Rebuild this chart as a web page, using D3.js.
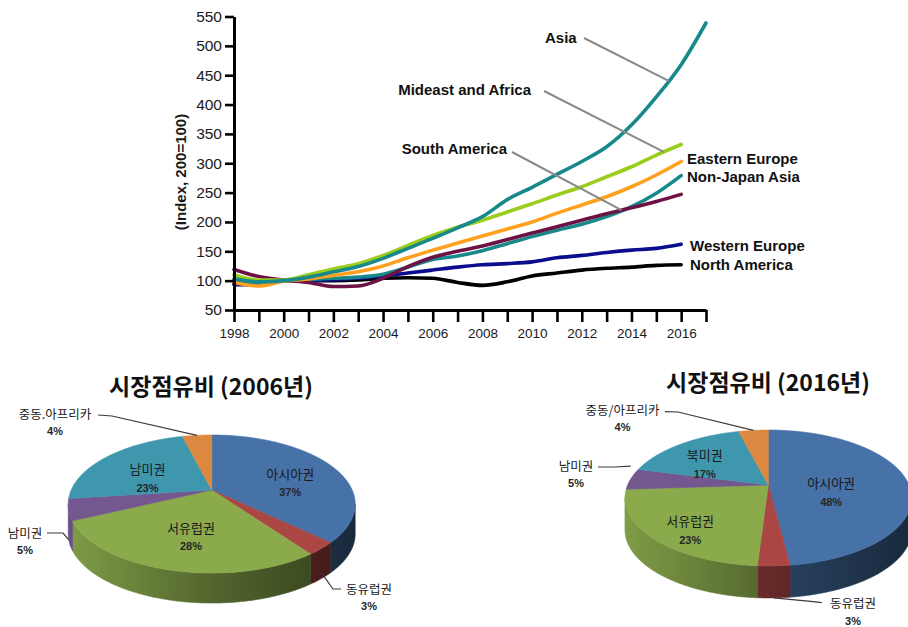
<!DOCTYPE html>
<html>
<head>
<meta charset="utf-8">
<script src="https://cdn.jsdelivr.net/npm/d3@7"></script>
<style>
  body { margin: 0; background: #fff; }
  svg { display: block; }
</style>
</head>
<body>
<svg id="chart" width="908" height="627"></svg>
<script>
// ---------- Market index by region (index, 2000 = 100) ----------
const years = d3.range(1998, 2017);          // 1998 … 2016
const asiaYears = d3.range(1998, 2018);      // 1998 … 2017
const asia          = [103, 98, 100, 106, 115, 124, 138, 155, 172, 190, 209, 238, 259, 281, 303, 328, 365, 413, 468, 539];
const mideastAfrica = [110, 101, 101, 110, 120, 129, 143, 160, 177, 191, 203, 217, 231, 246, 260, 277, 294, 314, 332];
const easternEurope = [97, 91, 99, 103, 109, 115, 125, 139, 152, 164, 176, 188, 200, 215, 229, 243, 260, 280, 303];
const nonJapanAsia  = [102, 97, 100, 102, 104, 106, 111, 123, 136, 142, 151, 163, 175, 186, 196, 209, 226, 249, 279];
const southAmerica  = [119, 107, 101, 97, 90, 91, 104, 124, 140, 150, 159, 170, 181, 192, 203, 214, 224, 235, 247];
const westernEurope = [93, 93, 100, 100, 102, 104, 108, 113, 118, 123, 127, 129, 132, 139, 143, 148, 152, 155, 162];
const northAmerica  = [95, 97, 100, 100, 100, 101, 104, 105, 104, 97, 92, 98, 108, 113, 118, 121, 123, 126, 127];
const yTicks = d3.range(50, 551, 50);
const xTicks = d3.range(1998, 2018);
const xTickLabels = [1998, 2000, 2002, 2004, 2006, 2008, 2010, 2012, 2014, 2016];

// ---------- Market share pies ----------
const regions2006 = ["아시아권", "동유럽권", "서유럽권", "남미권", "남미권", "중동.아프리카"];
const shares2006  = [37, 3, 28, 5, 23, 4];
const regions2016 = ["아시아권", "동유럽권", "서유럽권", "남미권", "북미권", "중동/아프리카"];
const shares2016  = [48, 3, 23, 5, 17, 4];
const sliceColors = ["#4672a8", "#aa4644", "#8aaa4c", "#74578f", "#3f97ae", "#dd8841"];

const FONT = "'Liberation Sans', Arial, Helvetica, sans-serif";
const KFONT = "'Noto Sans CJK KR', 'Noto Sans', sans-serif";
const svg = d3.select("#chart");

// ================= line chart =================
const x = d3.scaleLinear().domain([1998, 2017]).range([234, 706]);
const y = d3.scaleLinear().domain([50, 550]).range([310, 16.5]);

const series = [
  { name: "North America",      yrs: years,     values: northAmerica,  color: "#000000" },
  { name: "Western Europe",     yrs: years,     values: westernEurope, color: "#0c0c8e" },
  { name: "Non-Japan Asia",     yrs: years,     values: nonJapanAsia,  color: "#17898b" },
  { name: "South America",      yrs: years,     values: southAmerica,  color: "#6d1245" },
  { name: "Eastern Europe",     yrs: years,     values: easternEurope, color: "#ffa11f" },
  { name: "Mideast and Africa", yrs: years,     values: mideastAfrica, color: "#9acd1c" },
  { name: "Asia",               yrs: asiaYears, values: asia,          color: "#17898b" }
];
const byName = Object.fromEntries(series.map(s => [s.name, s]));

const line = d3.line()
  .x(d => x(d[0]))
  .y(d => y(d[1]))
  .curve(d3.curveMonotoneX);

svg.append("g").selectAll("path")
  .data(series)
  .join("path")
  .attr("d", s => line(s.yrs.map((yr, i) => [yr, s.values[i]])))
  .attr("fill", "none")
  .attr("stroke", s => s.color)
  .attr("stroke-width", 3.6)
  .attr("stroke-linecap", "round")
  .attr("stroke-linejoin", "round");

// axes
const gy = svg.append("g")
  .attr("transform", `translate(${x(1998)},0)`)
  .call(d3.axisLeft(y).tickValues(yTicks).tickSize(9).tickSizeOuter(0).tickPadding(3));
const gx = svg.append("g")
  .attr("transform", `translate(0,${y(50)})`)
  .call(d3.axisBottom(x).tickValues(xTicks).tickSize(12).tickSizeOuter(0).tickPadding(6)
    .tickFormat(d => xTickLabels.includes(d) ? String(d) : ""));
[gy, gx].forEach(g => {
  g.select(".domain").attr("stroke", "#000").attr("stroke-width", 3);
  g.selectAll(".tick line").attr("stroke", "#000").attr("stroke-width", 2.6);
  g.selectAll(".tick text").attr("font-family", FONT).attr("fill", "#1a1a1a");
});
gy.selectAll(".tick text").attr("font-size", 15.5);
gx.selectAll(".tick text").attr("font-size", 13.5);

svg.append("text")
  .attr("transform", "translate(180,172) rotate(-90)")
  .attr("text-anchor", "middle")
  .attr("dominant-baseline", "central")
  .attr("font-family", FONT)
  .attr("font-weight", "bold")
  .attr("font-size", 15)
  .attr("fill", "#1a1a1a")
  .text("(Index, 200=100)");

// series labels with leader lines
const valueAt = (s, yr) => {
  const i = Math.min(Math.floor(yr - s.yrs[0]), s.values.length - 2);
  const t = yr - s.yrs[i];
  return s.values[i] + (s.values[i + 1] - s.values[i]) * t;
};
const leaderLabels = [
  { text: "Asia",               anchor: "start", tx: 545, ty: 43,  from: [584, 38],  series: "Asia",               at: 2015.5 },
  { text: "Mideast and Africa", anchor: "end",   tx: 531, ty: 95,  from: [544, 91],  series: "Mideast and Africa", at: 2015.3 },
  { text: "South America",      anchor: "end",   tx: 507, ty: 154, from: [512, 152], series: "South America",      at: 2013.6 }
];
leaderLabels.forEach(l => {
  const s = byName[l.series];
  svg.append("line")
    .attr("x1", l.from[0]).attr("y1", l.from[1])
    .attr("x2", x(l.at)).attr("y2", y(valueAt(s, l.at)))
    .attr("stroke", "#8a8a8a").attr("stroke-width", 2);
  svg.append("text")
    .attr("x", l.tx).attr("y", l.ty)
    .attr("text-anchor", l.anchor)
    .attr("font-family", FONT).attr("font-weight", "bold").attr("font-size", 15)
    .attr("fill", "#111")
    .text(l.text);
});
const endLabels = [
  { text: "Eastern Europe", tx: 687, ty: 164 },
  { text: "Non-Japan Asia", tx: 687, ty: 182 },
  { text: "Western Europe", tx: 690, ty: 251 },
  { text: "North America",  tx: 690, ty: 270 }
];
svg.append("g").selectAll("text")
  .data(endLabels)
  .join("text")
  .attr("x", d => d.tx).attr("y", d => d.ty)
  .attr("font-family", FONT).attr("font-weight", "bold").attr("font-size", 15)
  .attr("fill", "#111")
  .text(d => d.text);

// ================= 3-D pies =================
function shade(c, f) {
  const col = d3.rgb(c);
  return d3.rgb(col.r * f, col.g * f, col.b * f).formatHex();
}

const defs = svg.append("defs");

function drawPie3D(cfg) {
  const { id, title, names, values, cx, cy, A, B, p, H, titleX, titleY, inside, outside } = cfg;
  const g = svg.append("g");
  // perspective projection of a point on the (tilted) pie disk
  const proj = (theta, r = 1) => {
    const u = r * Math.sin(theta), v = -r * Math.cos(theta);
    const s = 1 / (1 - p * v);
    return [cx + A * u * s, cy + B * v * s];
  };
  const arcs = d3.pie().sort(null).value(d => d)(values);
  const step = Math.PI / 360;
  const sample = (a0, a1) => {
    const pts = [];
    const n = Math.max(2, Math.ceil((a1 - a0) / step));
    for (let k = 0; k <= n; k++) pts.push(proj(a0 + (a1 - a0) * k / n));
    return pts;
  };

  // side walls (front half only)
  const fr0 = Math.acos(-p), fr1 = 2 * Math.PI - fr0;
  const halfW = A / Math.sqrt(1 - p * p);
  arcs.forEach((a, i) => {
    const a0 = Math.max(a.startAngle, fr0), a1 = Math.min(a.endAngle, fr1);
    if (a1 <= a0) return;
    const gid = `side-${id}-${i}`;
    const grad = defs.append("linearGradient")
      .attr("id", gid).attr("gradientUnits", "userSpaceOnUse")
      .attr("x1", cx - halfW).attr("x2", cx + halfW).attr("y1", 0).attr("y2", 0);
    [[0, 0.92], [0.5, 0.6], [1, 0.36]].forEach(([o, f]) =>
      grad.append("stop").attr("offset", o).attr("stop-color", shade(sliceColors[i], f)));
    const top = sample(a0, a1);
    const bottom = top.map(([px, py]) => [px, py + H]).reverse();
    g.append("path")
      .attr("d", "M" + top.concat(bottom).map(q => q.join(",")).join("L") + "Z")
      .attr("fill", `url(#${gid})`)
      .attr("stroke", `url(#${gid})`).attr("stroke-width", 0.6);
  });

  // top faces
  arcs.forEach((a, i) => {
    const pts = [[cx, cy]].concat(sample(a.startAngle, a.endAngle));
    g.append("path")
      .attr("d", "M" + pts.map(q => q.join(",")).join("L") + "Z")
      .attr("fill", sliceColors[i])
      .attr("stroke", sliceColors[i]).attr("stroke-width", 0.6);
  });

  // labels inside slices
  arcs.forEach((a, i) => {
    if (inside[i] === undefined) return;
    const [lx, ly0] = proj((a.startAngle + a.endAngle) / 2, inside[i]);
    const ly = ly0 + 9;
    g.append("text").attr("x", lx).attr("y", ly - 9.5)
      .attr("text-anchor", "middle").attr("dominant-baseline", "central")
      .attr("font-family", KFONT).attr("font-size", 13).attr("fill", "#1a1a1a")
      .text(names[i]);
    g.append("text").attr("x", lx).attr("y", ly + 9.5)
      .attr("text-anchor", "middle").attr("dominant-baseline", "central")
      .attr("font-family", FONT).attr("font-weight", "bold").attr("font-size", 11).attr("fill", "#262626")
      .text(values[i] + "%");
  });

  // labels outside with leader lines
  Object.entries(outside).forEach(([k, o]) => {
    const i = +k, a = arcs[i];
    const [ax, ay] = proj(a.startAngle + (a.endAngle - a.startAngle) * o.frac);
    const pts = o.leader.map(([dx, dy]) => [cx + dx, cy + dy]).concat([[ax, ay + o.depth * H]]);
    g.append("path")
      .attr("d", "M" + pts.map(q => q.join(",")).join("L"))
      .attr("fill", "none").attr("stroke", "#3a3a3a").attr("stroke-width", 1.2);
    const tx = cx + o.text[0], ty = cy + o.text[1];
    g.append("text").attr("x", tx).attr("y", ty)
      .attr("text-anchor", "middle").attr("dominant-baseline", "central")
      .attr("font-family", KFONT).attr("font-size", 12.5).attr("fill", "#1a1a1a")
      .text(names[i]);
    g.append("text").attr("x", tx).attr("y", ty + 18)
      .attr("text-anchor", "middle").attr("dominant-baseline", "central")
      .attr("font-family", FONT).attr("font-weight", "bold").attr("font-size", 11).attr("fill", "#262626")
      .text(values[i] + "%");
  });

  // title
  g.append("text").attr("x", titleX).attr("y", titleY)
    .attr("text-anchor", "middle").attr("dominant-baseline", "central")
    .attr("font-family", KFONT).attr("font-weight", "bold").attr("font-size", 23)
    .attr("fill", "#111")
    .text(title);
}

drawPie3D({
  id: "y2006", title: "시장점유비 (2006년)", names: regions2006, values: shares2006,
  cx: 211.7, cy: 490, A: 140.5, B: 66.2, p: 0.203, H: 30, titleX: 211, titleY: 385,
  inside: { 0: 0.64, 2: 0.53, 4: 0.59 },
  outside: {
    1: { text: [157.3, 98],   leader: [[129.3, 99], [121.3, 99]],   frac: 0.5, depth: 0.8 },
    3: { text: [-186.7, 42],  leader: [[-164.7, 43], [-148.7, 43]], frac: 0.5, depth: 1 },
    5: { text: [-156.7, -77], leader: [[-113.7, -75], [-99.7, -74]], frac: 0.5, depth: 0 }
  }
});

drawPie3D({
  id: "y2016", title: "시장점유비 (2016년)", names: regions2016, values: shares2016,
  cx: 768.3, cy: 485, A: 140.7, B: 65.5, p: 0.191, H: 32, titleX: 768, titleY: 381,
  inside: { 0: 0.45, 2: 0.71, 4: 0.70 },
  outside: {
    1: { text: [84.7, 117.7],  leader: [[53.4, 117.7], [45, 116.7]],   frac: 0.5, depth: 1 },
    3: { text: [-192.3, -20],  leader: [[-170.3, -18], [-153.3, -18]], frac: 0.5, depth: -0.4 },
    5: { text: [-145.8, -75.7], leader: [[-103.3, -73.3], [-90.3, -73]], frac: 0.5, depth: 0 }
  }
});
</script>
</body>
</html>
